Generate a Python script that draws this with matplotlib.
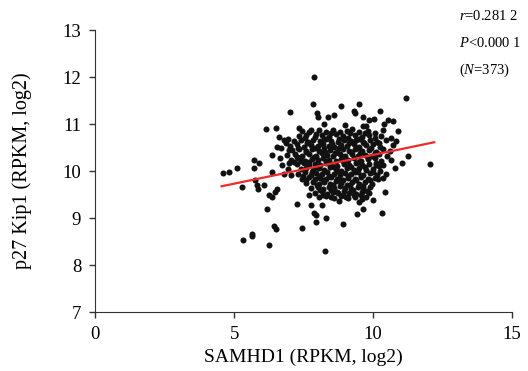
import numpy as np
import matplotlib
matplotlib.use("Agg")
import matplotlib.pyplot as plt

plt.rcParams['font.family'] = ['Liberation Serif', 'DejaVu Serif']
plt.rcParams['mathtext.fontset'] = 'custom'
plt.rcParams['mathtext.rm'] = 'Liberation Serif'
plt.rcParams['mathtext.it'] = 'Liberation Serif:italic'

# outer / sparse points (SAMHD1, p27 Kip1)
sparse_pts = [
    (7.86, 12.0), (11.2, 11.55), (7.0, 11.26), (6.13, 10.90), (6.52, 10.92), (6.6, 10.73),
    (6.78, 10.66), (6.95, 10.68), (7.85, 11.43), (8.84, 11.39), (9.5, 11.43), (7.97, 11.23),
    (8.02, 11.16), (8.39, 11.14), (8.6, 11.19), (9.32, 11.27), (9.34, 11.23), (9.62, 11.14),
    (8.23, 11.01), (8.98, 10.99), (7.33, 10.92), (7.78, 10.87), (9.62, 10.96),
    (10.24, 11.27), (9.86, 11.09), (10.04, 11.11), (10.52, 11.09), (10.72, 11.07), (10.4, 11.0),
    (10.34, 10.87), (10.91, 10.86), (10.64, 10.71), (10.82, 10.64), (9.74, 10.96),
    (4.59, 9.96), (4.83, 9.99), (5.11, 10.06), (5.27, 9.66), (5.71, 10.23), (5.71, 10.06),
    (5.91, 10.18), (5.77, 9.80), (5.83, 9.71), (5.87, 9.62), (6.07, 9.71), (6.25, 9.49),
    (6.35, 9.44), (6.47, 9.55), (6.55, 9.61), (6.19, 9.19), (6.35, 10.35), (6.55, 10.51),
    (6.67, 10.48), (6.85, 10.59), (6.64, 10.28), (6.73, 10.12), (6.97, 10.18), (6.37, 9.98),
    (6.79, 9.94), (6.95, 10.05), (7.03, 9.91), (6.96, 10.45),
    (11.24, 10.32), (12.04, 10.14), (11.03, 10.18), (10.79, 10.06), (10.64, 10.23), (10.48, 9.94),
    (10.36, 9.85), (10.19, 9.82), (10.43, 9.55), (10.0, 9.39), (10.31, 9.10), (10.1, 10.12),
    (10.7, 10.55),
    (5.31, 8.54), (5.65, 8.67), (5.66, 8.61), (6.43, 8.82), (6.52, 8.76), (6.25, 8.42),
    (7.43, 8.79), (7.93, 9.06), (7.93, 8.92), (8.32, 9.01), (8.93, 8.87), (9.43, 9.09), (8.26, 8.29),
    (7.25, 9.30), (7.69, 9.48), (7.75, 9.27), (8.17, 9.27), (7.86, 9.11), (8.47, 9.44), (8.77, 9.37),
    (7.15, 10.19), (9.02, 9.44), (9.32, 9.48), (9.5, 9.34), (9.62, 9.19), (9.74, 9.44),
]

# dense core of the cloud
core_pts = [
    (7.45, 10.86), (7.7, 10.83), (8.05, 10.88), (8.3, 10.84), (8.55, 10.87), (8.8, 10.82),
    (9.05, 10.86), (9.25, 10.89), (9.5, 10.83), (9.8, 10.85), (10.05, 10.8),
    (7.35, 10.74), (7.6, 10.77), (7.9, 10.72), (8.15, 10.76), (8.4, 10.73), (8.65, 10.78),
    (8.9, 10.74), (9.1, 10.71), (9.35, 10.76), (9.6, 10.73), (9.85, 10.77), (10.3, 10.74),
    (7.15, 10.64), (7.4, 10.67), (7.65, 10.62), (7.85, 10.66), (8.1, 10.63), (8.3, 10.68),
    (8.5, 10.64), (8.75, 10.61), (8.95, 10.66), (9.2, 10.63), (9.4, 10.67), (9.65, 10.62),
    (9.9, 10.65), (10.15, 10.62), (10.45, 10.66),
    (7.0, 10.54), (7.25, 10.57), (7.5, 10.52), (7.75, 10.56), (8.0, 10.53), (8.2, 10.58),
    (8.4, 10.54), (8.6, 10.51), (8.85, 10.56), (9.05, 10.53), (9.3, 10.57), (9.5, 10.52),
    (9.75, 10.55), (10.0, 10.58), (10.25, 10.52),
    (7.1, 10.44), (7.35, 10.47), (7.6, 10.42), (7.8, 10.46), (8.05, 10.43), (8.25, 10.48),
    (8.45, 10.44), (8.7, 10.41), (8.9, 10.46), (9.15, 10.43), (9.35, 10.47), (9.6, 10.42),
    (9.85, 10.45), (10.1, 10.41), (10.35, 10.46), (10.6, 10.42),
    (6.9, 10.34), (7.2, 10.37), (7.45, 10.32), (7.7, 10.36), (7.95, 10.33), (8.15, 10.38),
    (8.35, 10.34), (8.55, 10.31), (8.8, 10.36), (9.0, 10.33), (9.25, 10.37), (9.45, 10.32),
    (9.7, 10.35), (9.95, 10.31), (10.2, 10.36), (10.5, 10.33),
    (7.05, 10.24), (7.3, 10.27), (7.55, 10.22), (7.8, 10.26), (8.0, 10.23), (8.2, 10.28),
    (8.4, 10.24), (8.65, 10.21), (8.85, 10.26), (9.1, 10.23), (9.3, 10.27), (9.55, 10.22),
    (9.8, 10.25), (10.05, 10.28), (10.3, 10.22),
    (7.25, 10.14), (7.5, 10.17), (7.7, 10.12), (7.9, 10.16), (8.1, 10.13), (8.3, 10.18),
    (8.5, 10.14), (8.7, 10.11), (8.95, 10.16), (9.15, 10.13), (9.4, 10.17), (9.6, 10.12),
    (9.85, 10.15), (10.1, 10.18), (10.35, 10.13),
    (7.4, 10.04), (7.6, 10.07), (7.85, 10.02), (8.05, 10.06), (8.25, 10.03), (8.45, 10.08),
    (8.65, 10.04), (8.85, 10.01), (9.05, 10.06), (9.3, 10.03), (9.5, 10.07), (9.75, 10.02),
    (10.0, 10.05), (10.25, 10.01),
    (7.3, 9.94), (7.55, 9.97), (7.75, 9.92), (7.95, 9.96), (8.15, 9.93), (8.35, 9.98),
    (8.6, 9.94), (8.8, 9.91), (9.0, 9.96), (9.2, 9.93), (9.45, 9.97), (9.65, 9.92),
    (9.9, 9.95), (10.15, 9.91),
    (7.45, 9.84), (7.7, 9.87), (7.9, 9.82), (8.1, 9.86), (8.3, 9.83), (8.5, 9.88),
    (8.7, 9.84), (8.9, 9.81), (9.1, 9.86), (9.35, 9.83), (9.55, 9.87), (9.8, 9.82), (10.05, 9.86),
    (7.6, 9.74), (7.85, 9.77), (8.05, 9.72), (8.25, 9.76), (8.45, 9.73), (8.65, 9.78),
    (8.85, 9.74), (9.05, 9.71), (9.25, 9.76), (9.5, 9.73), (9.7, 9.77), (9.95, 9.72),
    (7.75, 9.64), (8.0, 9.67), (8.2, 9.62), (8.4, 9.66), (8.6, 9.63), (8.8, 9.68),
    (9.0, 9.64), (9.2, 9.61), (9.45, 9.66), (9.65, 9.63), (9.9, 9.67),
    (7.9, 9.54), (8.15, 9.57), (8.35, 9.52), (8.55, 9.56), (8.75, 9.53), (8.95, 9.58),
    (9.15, 9.54), (9.4, 9.51), (9.6, 9.56), (9.85, 9.53),
    (8.05, 9.44), (8.3, 9.47), (8.6, 9.43), (8.85, 9.46), (9.1, 9.42), (9.35, 9.45), (9.6, 9.41),
]

# extra points filling the darkest middle of the cloud
center_pts = [
    (7.55, 10.70), (7.95, 10.79), (8.22, 10.69), (8.48, 10.81), (8.78, 10.68), (9.18, 10.80),
    (9.48, 10.69), (9.72, 10.81), (10.08, 10.70), (7.3, 10.50), (7.62, 10.59), (7.9, 10.49),
    (8.12, 10.60), (8.52, 10.57), (8.78, 10.49), (9.12, 10.60), (9.42, 10.50), (9.68, 10.59),
    (9.92, 10.49), (10.2, 10.60), (7.28, 10.30), (7.58, 10.40), (7.88, 10.29), (8.28, 10.41),
    (8.62, 10.39), (8.92, 10.29), (9.2, 10.40), (9.52, 10.39), (9.82, 10.29), (10.08, 10.39),
    (7.4, 10.21), (7.68, 10.20), (7.98, 10.09), (8.32, 10.21), (8.58, 10.09), (8.92, 10.21),
    (9.22, 10.09), (9.48, 10.20), (9.72, 10.08), (10.2, 10.10), (7.48, 9.90), (7.82, 9.99),
    (8.05, 9.89), (8.42, 9.90), (8.7, 10.00), (9.1, 9.90), (9.35, 9.99), (9.58, 9.89),
    (9.98, 9.99), (7.58, 9.80), (7.98, 9.70), (8.2, 9.81), (8.55, 9.70), (8.78, 9.80),
    (9.18, 9.70), (9.4, 9.80), (9.62, 9.69), (9.9, 9.80), (8.1, 9.59), (8.5, 9.60),
    (8.9, 9.50), (9.28, 9.59), (9.55, 9.48), (8.7, 9.55), (8.2, 9.49), (9.78, 9.58),
]

all_pts = sparse_pts + core_pts + center_pts
samhd1 = [p[0] for p in all_pts]
p27 = [p[1] for p in all_pts]

# regression line as drawn
fit_x = [4.55, 12.2]
slope, intercept = 0.1225, 9.118
fit_y = [intercept + slope * v for v in fit_x]

fig = plt.figure(figsize=(5.28, 3.71), dpi=100)
ax = fig.add_axes([0.18, 0.159, 0.79, 0.76])

ax.scatter(samhd1, p27, s=19, color='#111111', linewidths=0, zorder=2)
ax.plot(fit_x, fit_y, color='#ee2b2b', lw=1.6, zorder=3)

ax.set_xlim(0, 15)
ax.set_ylim(7, 13)
ax.set_xticks([0, 5, 10, 15])
ax.set_yticks([7, 8, 9, 10, 11, 12, 13])
ax.spines['top'].set_visible(False)
ax.spines['right'].set_visible(False)
ax.spines['left'].set_color('#333333')
ax.spines['bottom'].set_color('#333333')
ax.tick_params(direction='out', length=4, width=1, color='#333333', labelsize=13.5, pad=6)
ax.set_xlabel('SAMHD1 (RPKM, log2)', fontsize=14, labelpad=4)
ax.set_ylabel('p27 Kip1 (RPKM, log2)', fontsize=14.5, labelpad=22)

ax.text(13.1, 13.3, r'$\it{r}$=0.281 2', fontsize=10.5, va='center', clip_on=False)
ax.text(13.1, 12.72, r'$\it{P}$<0.000 1', fontsize=10.5, va='center', clip_on=False)
ax.text(13.1, 12.14, r'($\it{N}$=373)', fontsize=10.5, va='center', clip_on=False)

fig.savefig('out.png', dpi=100)
